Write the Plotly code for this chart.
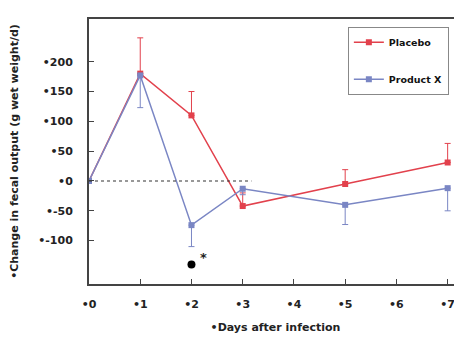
import plotly.graph_objects as go

days = [0, 1, 2, 3, 5, 7]
placebo = [0, 180, 110, -42, -5, 31]
placebo_err_up = [0, 60, 40, 22, 24, 32]
product = [0, 177, -74, -13, -40, -12]
product_err_down = [0, 54, 36, 10, 33, 38]
x_ticks = [0, 1, 2, 3, 4, 5, 6, 7]
x_tick_text = ["•0", "•1", "•2", "•3", "•4", "•5", "•6", "•7"]
y_ticks = [200, 150, 100, 50, 0, -50, -100]
y_tick_text = ["•200", "•150", "•100", "•50", "•0", "•-50", "•-100"]
sig_day = [2]
sig_val = [-140]

RED = "#e2414c"
BLUE = "#7a86c4"
FAM = "DejaVu Sans, Verdana, sans-serif"
font = dict(family=FAM, size=11, color="#222")

fig = go.Figure()
fig.add_trace(go.Scatter(
    x=days, y=placebo, mode="lines+markers", name="Placebo",
    legendgroup="a",
    line=dict(color=RED, width=1.5),
    marker=dict(symbol="square", size=6, color=RED),
    error_y=dict(type="data", symmetric=False, array=placebo_err_up,
                 arrayminus=[0]*len(days), color=RED, thickness=1, width=3),
))
fig.add_trace(go.Scatter(
    x=days, y=product, mode="lines+markers", name="Product X",
    legendgroup="b",
    line=dict(color=BLUE, width=1.5),
    marker=dict(symbol="square", size=6, color=BLUE),
    error_y=dict(type="data", symmetric=False, array=[0]*len(days),
                 arrayminus=product_err_down, color=BLUE, thickness=1, width=3),
))
fig.add_trace(go.Scatter(
    x=sig_day, y=sig_val, mode="markers", showlegend=False,
    marker=dict(symbol="circle", size=8, color="black"),
))
fig.add_annotation(x=2.24, y=-128, text="<b>*</b>", showarrow=False,
                   font=dict(family=FAM, size=13, color="#222"))
fig.add_shape(type="line", x0=0, x1=3.17, y0=0, y1=0, xref="x", yref="y",
              line=dict(color="#333", width=1.2, dash="dot"))

fig.update_layout(
    width=454, height=330,
    margin=dict(l=81, r=0, t=11, b=54),
    paper_bgcolor="white", plot_bgcolor="white",
    font=font,
    legend=dict(x=0.694, y=0.971, xanchor="left", yanchor="top",
                bordercolor="#888", borderwidth=1, bgcolor="white",
                font=dict(family=FAM, size=9.5, color="#111", weight="bold"),
                tracegroupgap=18),
    xaxis=dict(range=[0, 7.28], tickvals=x_ticks, ticktext=x_tick_text,
               showgrid=False, zeroline=False, showline=True, linecolor="#444",
               linewidth=2, mirror=True, ticks="inside", ticklen=5, tickcolor="#444",
               ticklabelstandoff=9,
               tickfont=dict(weight="bold", size=11),
               title=dict(text="•Days after infection", standoff=13,
                          font=dict(size=11, weight="bold"))),
    yaxis=dict(range=[-172.7, 271.6], tickvals=y_ticks, ticktext=y_tick_text,
               showgrid=False, zeroline=False, showline=True, linecolor="#444",
               linewidth=2, ticks="inside", ticklen=5, tickcolor="#444",
               ticklabelstandoff=12,
               tickfont=dict(weight="bold", size=11),
               title=dict(text="•Change in fecal output (g wet weight/d)", standoff=20,
                          font=dict(size=11, weight="bold"))),
)
fig.write_html("out.html")
